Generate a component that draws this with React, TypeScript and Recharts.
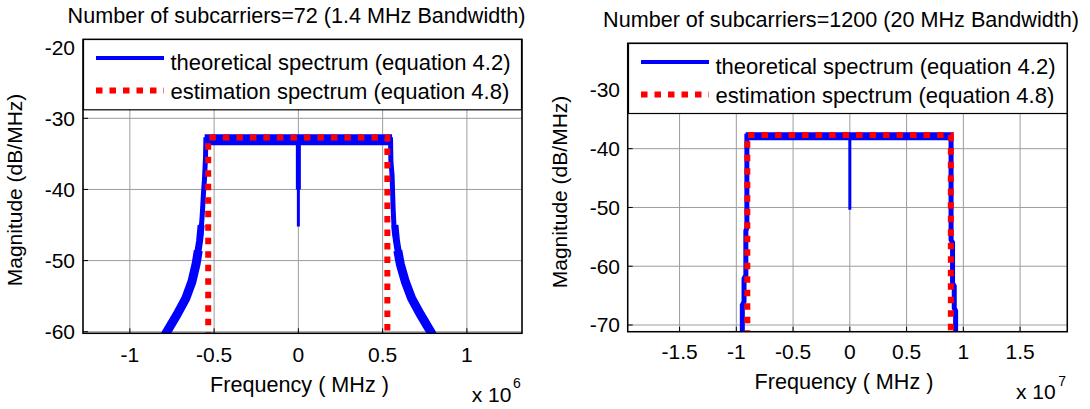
import React from 'react';
import { LineChart, Line, XAxis, YAxis, CartesianGrid } from 'recharts';

const FONT = '"Liberation Sans", Arial, Helvetica, sans-serif';
const BLUE = '#0000ff';
const RED = '#ff0000';
const GRID = '#9c9c9c';

// ---------- texts ----------
const leftTitle = 'Number of subcarriers=72 (1.4 MHz Bandwidth)';
const rightTitle = 'Number of subcarriers=1200 (20 MHz Bandwidth)';
const legendLabels = ['theoretical spectrum (equation 4.2)', 'estimation spectrum (equation 4.8)'];
const xLabel = 'Frequency ( MHz )';
const yLabel = 'Magnitude (dB/MHz)';
const leftExponent = '6';
const rightExponent = '7';

// ---------- ticks / domains ----------
const leftXTicks = [-1, -0.5, 0, 0.5, 1];
const leftYTicks = [-60, -50, -40, -30, -20];
const leftXDomain: [number, number] = [-1.278, 1.327];
const leftYDomain: [number, number] = [-60.22, -18.91];

const rightXTicks = [-1.5, -1, -0.5, 0, 0.5, 1, 1.5];
const rightYTicks = [-70, -60, -50, -40, -30];
const rightXDomain: [number, number] = [-1.957, 1.916];
const rightYDomain: [number, number] = [-71.14, -22.07];

type Pt = { f: number; m: number };

// ---------- left panel data (f in units of 1e6 Hz, m in dB/MHz) ----------
const lpBand: Pt[] = [
  { f: -0.556, m: -33.0 },
  { f: 0.556, m: -33.0 },
];
const lpLobeL: Pt[] = [
  { f: -0.8, m: -61.0 },
  { f: -0.785, m: -60.2 },
  { f: -0.72, m: -57.6 },
  { f: -0.668, m: -55.3 },
  { f: -0.632, m: -53.0 },
  { f: -0.607, m: -50.5 },
  { f: -0.594, m: -48.6 },
];
const lpTaperL: Pt[] = [
  { f: -0.6, m: -49.4 },
  { f: -0.586, m: -47.2 },
  { f: -0.577, m: -45.0 },
];
const lpLobeR: Pt[] = [
  { f: 0.59, m: -48.6 },
  { f: 0.605, m: -50.5 },
  { f: 0.635, m: -53.0 },
  { f: 0.672, m: -55.3 },
  { f: 0.725, m: -57.6 },
  { f: 0.79, m: -60.2 },
  { f: 0.805, m: -61.0 },
];
const lpTaperR: Pt[] = [
  { f: 0.597, m: -49.4 },
  { f: 0.582, m: -47.2 },
  { f: 0.573, m: -45.0 },
];
const lpTheory: Pt[] = [
  { f: -0.592, m: -48.2 },
  { f: -0.58, m: -46.5 },
  { f: -0.571, m: -43.8 },
  { f: -0.563, m: -40.5 },
  { f: -0.557, m: -38.5 },
  { f: -0.551, m: -35.5 },
  { f: -0.549, m: -33.0 },
  { f: 0.547, m: -33.0 },
  { f: 0.549, m: -36.0 },
  { f: 0.556, m: -38.0 },
  { f: 0.562, m: -42.5 },
  { f: 0.569, m: -46.0 },
  { f: 0.588, m: -48.2 },
];
const lpSpikeTop: Pt[] = [
  { f: 0, m: -33.0 },
  { f: 0, m: -40.0 },
];
const lpSpikeLow: Pt[] = [
  { f: 0, m: -39.0 },
  { f: 0, m: -45.2 },
];
const lpEstimate: Pt[] = [
  { f: -0.535, m: -61.0 },
  { f: -0.535, m: -32.7 },
  { f: 0.528, m: -32.7 },
  { f: 0.528, m: -61.0 },
];

// ---------- right panel data (f in units of 1e7 Hz) ----------
const rpBand: Pt[] = [
  { f: -0.918, m: -37.9 },
  { f: 0.905, m: -37.9 },
];
const rpTheory: Pt[] = [
  { f: -0.947, m: -72.0 },
  { f: -0.947, m: -66.6 },
  { f: -0.932, m: -66.0 },
  { f: -0.932, m: -62.1 },
  { f: -0.916, m: -61.5 },
  { f: -0.916, m: -54.0 },
  { f: -0.907, m: -53.4 },
  { f: -0.907, m: -37.9 },
  { f: 0.892, m: -37.9 },
  { f: 0.892, m: -55.5 },
  { f: 0.905, m: -56.0 },
  { f: 0.905, m: -62.9 },
  { f: 0.92, m: -63.4 },
  { f: 0.92, m: -67.1 },
  { f: 0.932, m: -67.6 },
  { f: 0.932, m: -72.0 },
];
const rpSpike: Pt[] = [
  { f: 0, m: -37.9 },
  { f: 0, m: -50.4 },
];
const rpEstimate: Pt[] = [
  { f: -0.903, m: -72.0 },
  { f: -0.903, m: -37.67 },
  { f: 0.89, m: -37.67 },
  { f: 0.89, m: -72.0 },
];

interface Series {
  data: Pt[];
  color: string;
  width: number;
  dash?: string;
}

interface Box {
  x0: number;
  x1: number;
  y0: number;
  y1: number;
}

interface PanelCfg {
  left: number;
  box: Box;
  xDomain: [number, number];
  yDomain: [number, number];
  xTicks: number[];
  yTicks: number[];
  xTickGap: number;
  yTickGap: number;
  series: Series[];
}

const DOT = '6.5 7';

const leftCfg: PanelCfg = {
  left: 0,
  box: { x0: 83, x1: 522, y0: 39.4, y1: 333.3 },
  xDomain: leftXDomain,
  yDomain: leftYDomain,
  xTicks: leftXTicks,
  yTicks: leftYTicks,
  xTickGap: 13.5,
  yTickGap: 8,
  series: [
    { data: lpLobeL, color: BLUE, width: 9 },
    { data: lpLobeR, color: BLUE, width: 9 },
    { data: lpTaperL, color: BLUE, width: 7 },
    { data: lpTaperR, color: BLUE, width: 7 },
    { data: lpTheory, color: BLUE, width: 5 },
    { data: lpBand, color: BLUE, width: 11 },
    { data: lpSpikeTop, color: BLUE, width: 5 },
    { data: lpSpikeLow, color: BLUE, width: 3 },
    { data: lpEstimate, color: RED, width: 6, dash: DOT },
  ],
};

const rightCfg: PanelCfg = {
  left: 545,
  box: { x0: 82.7, x1: 522.3, y0: 43.3, y1: 331.7 },
  xDomain: rightXDomain,
  yDomain: rightYDomain,
  xTicks: rightXTicks,
  yTicks: rightYTicks,
  xTickGap: 12.7,
  yTickGap: 7.7,
  series: [
    { data: rpTheory, color: BLUE, width: 5 },
    { data: rpBand, color: BLUE, width: 8 },
    { data: rpSpike, color: BLUE, width: 3 },
    { data: rpEstimate, color: RED, width: 6, dash: DOT },
  ],
};

const TICK_FONT = { fontSize: 21, fill: '#000', fontFamily: FONT };
const TICK_LEN = 5;

function Panel({ cfg }: { cfg: PanelCfg }) {
  const { box } = cfg;
  const margin = {
    top: box.y0,
    left: box.x0 - 60,
    right: 545 - box.x1,
    bottom: 409 - box.y1 - 40,
  };
  return (
    <div style={{ position: 'absolute', left: cfg.left, top: 0, width: 545, height: 409 }}>
      <LineChart width={545} height={409} margin={margin}>
        <CartesianGrid stroke={GRID} strokeWidth={1} />
        <XAxis
          dataKey="f"
          type="number"
          domain={cfg.xDomain}
          ticks={cfg.xTicks}
          allowDataOverflow
          interval={0}
          height={40}
          axisLine={false}
          tickLine={{ stroke: '#000', strokeWidth: 1 }}
          tickSize={-TICK_LEN}
          tickMargin={cfg.xTickGap + TICK_LEN}
          tick={TICK_FONT}
        />
        <YAxis
          type="number"
          domain={cfg.yDomain}
          ticks={cfg.yTicks}
          allowDataOverflow
          interval={0}
          width={60}
          axisLine={false}
          tickLine={{ stroke: '#000', strokeWidth: 1 }}
          tickSize={-TICK_LEN}
          tickMargin={cfg.yTickGap + TICK_LEN}
          tick={TICK_FONT}
        />
        {cfg.series.map((s, i) => (
          <Line
            key={i}
            data={s.data}
            dataKey="m"
            type="linear"
            stroke={s.color}
            strokeWidth={s.width}
            strokeDasharray={s.dash}
            dot={false}
            activeDot={false}
            isAnimationActive={false}
            legendType="none"
          />
        ))}
      </LineChart>
    </div>
  );
}

function Legend({ x, y, w, h }: { x: number; y: number; w: number; h: number }) {
  return (
    <svg
      style={{ position: 'absolute', left: x, top: y, overflow: 'visible' }}
      width={w}
      height={h}
    >
      <rect x={0.5} y={0.5} width={w - 1} height={h - 1} fill="#fff" stroke="#000" strokeWidth={1.2} />
      <line x1={13} x2={81} y1={19} y2={19} stroke={BLUE} strokeWidth={4} />
      <line x1={13} x2={81} y1={51.5} y2={51.5} stroke={RED} strokeWidth={6} strokeDasharray={DOT} />
      <text x={87.5} y={30.6} fontSize={22} fontFamily={FONT} fill="#000">
        {legendLabels[0]}
      </text>
      <text x={87.5} y={60} fontSize={22} fontFamily={FONT} fill="#000">
        {legendLabels[1]}
      </text>
    </svg>
  );
}

export default function App() {
  const lb = leftCfg.box;
  const rb = rightCfg.box;
  return (
    <div
      style={{
        position: 'absolute',
        left: 0,
        top: 0,
        width: 1090,
        height: 409,
        background: '#fff',
        overflow: 'hidden',
      }}
    >
      <Panel cfg={leftCfg} />
      <Panel cfg={rightCfg} />
      <svg style={{ position: 'absolute', left: 0, top: 0 }} width={1090} height={409}>
        <rect x={lb.x0} y={lb.y0} width={lb.x1 - lb.x0} height={lb.y1 - lb.y0} fill="none" stroke="#000" strokeWidth={1.5} />
        <rect x={545 + rb.x0} y={rb.y0} width={rb.x1 - rb.x0} height={rb.y1 - rb.y0} fill="none" stroke="#000" strokeWidth={1.5} />
        <g fontFamily={FONT} fill="#000">
          <text x={296.5} y={22.5} fontSize={21.6} textAnchor="middle">{leftTitle}</text>
          <text x={841} y={27} fontSize={21.6} textAnchor="middle">{rightTitle}</text>
          <text x={299.5} y={391.5} fontSize={21.6} textAnchor="middle">{xLabel}</text>
          <text x={844} y={388.5} fontSize={21.6} textAnchor="middle">{xLabel}</text>
          <text transform="translate(22,190) rotate(-90)" fontSize={21} textAnchor="middle">{yLabel}</text>
          <text transform="translate(567,192) rotate(-90)" fontSize={21} textAnchor="middle">{yLabel}</text>
          <text x={471.7} y={401.5} fontSize={21}>x 10</text>
          <text x={513} y={388} fontSize={14}>{leftExponent}</text>
          <text x={1016} y={399.3} fontSize={21}>x 10</text>
          <text x={1058.3} y={385.5} fontSize={14}>{rightExponent}</text>
        </g>
      </svg>
      <Legend x={lb.x0} y={lb.y0} w={lb.x1 - lb.x0} h={71.3} />
      <Legend x={545 + rb.x0} y={rb.y0} w={rb.x1 - rb.x0} h={71} />
    </div>
  );
}
